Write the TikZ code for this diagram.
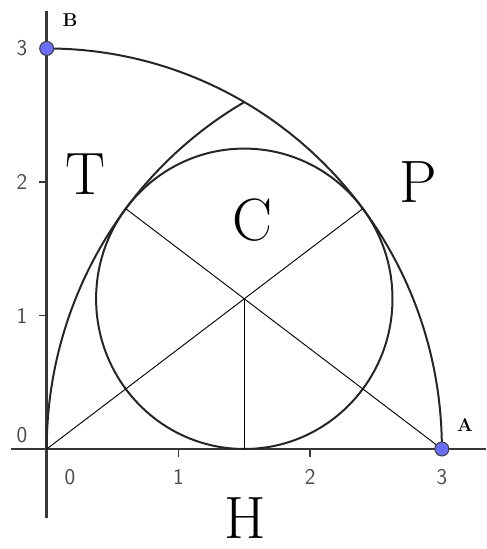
\documentclass[tikz,border=0pt]{standalone}
\usetikzlibrary{calc}
\definecolor{axisc}{RGB}{55,55,55}
\definecolor{ptc}{RGB}{105,110,250}
\tikzset{
  axis/.style={line width=1.9pt,axisc},
  tickm/.style={line width=1.1pt,axisc},
  arcl/.style={line width=1.5pt,black!85},
  seg/.style={line width=0.7pt,black},
  pt/.style={circle,draw=black!75,line width=0.8pt,fill=ptc,minimum size=10.5pt,inner sep=0pt},
  big/.style={font=\fontsize{45}{45}\selectfont,inner sep=0pt},
  numl/.style={font=\sffamily\fontsize{17}{17}\selectfont,text=black!70},
  ptl/.style={font=\bfseries\fontsize{14}{14}\selectfont},
}
\begin{document}
\begin{tikzpicture}[x=3.4846cm,y=3.532cm]
  \useasboundingbox (-0.3546,-0.749) rectangle (3.3356,3.363);
  \coordinate (O) at (0,0);
  \coordinate (A) at (3,0);
  \coordinate (B) at (0,3);
  \coordinate (M) at (1.5,1.125);
  \coordinate (F) at (1.5,0);
  \coordinate (Tp) at (0.6,1.8);
  \coordinate (Pp) at (2.4,1.8);
  \coordinate (xl) at (-0.271,0);
  \coordinate (xr) at (3.3356,0);
  \coordinate (yb) at (0,-0.517);
  \coordinate (yt) at (0,3.281);
  \draw[axis] (xl) -- (xr);
  \draw[axis] (yb) -- (yt);
  \foreach \i in {1,2} {
    \draw[tickm] (\i,0) -- ++(0,-0.06);
    \draw[tickm] (0,\i) -- ++(-0.06,0);
  }
  \foreach \i in {1,2,3} {
    \node[numl] (x\i) at (\i,-0.21) {\i};
    \node[numl] (y\i) at (-0.188,\i) {\i};
  }
  \node[numl] (x0) at (0.177,-0.21) {0};
  \node[numl] (y0) at (-0.188,0.105) {0};
  \draw[arcl] (A) arc[start angle=0,end angle=90,radius=3];
  \draw[arcl] (O) arc[start angle=180,end angle=120,radius=3];
  \draw[arcl] (M) circle[radius=1.125];
  \draw[seg] (O) -- (Pp);
  \draw[seg] (A) -- (Tp);
  \draw[seg] (M) -- (F);
  \node[pt] (ptA) at (A) {};
  \node[pt] (ptB) at (B) {};
  \node[ptl] (labA) at (3.176,0.18) {A};
  \node[ptl] (labB) at (0.177,3.21) {B};
  \node[big] (T) at (0.297,2.06) {T};
  \node[big] (C) at (1.56,1.715) {C};
  \node[big] (P) at (2.82,2.0) {P};
  \node[big] (H) at (1.507,-0.52) {H};
\end{tikzpicture}
\end{document}
